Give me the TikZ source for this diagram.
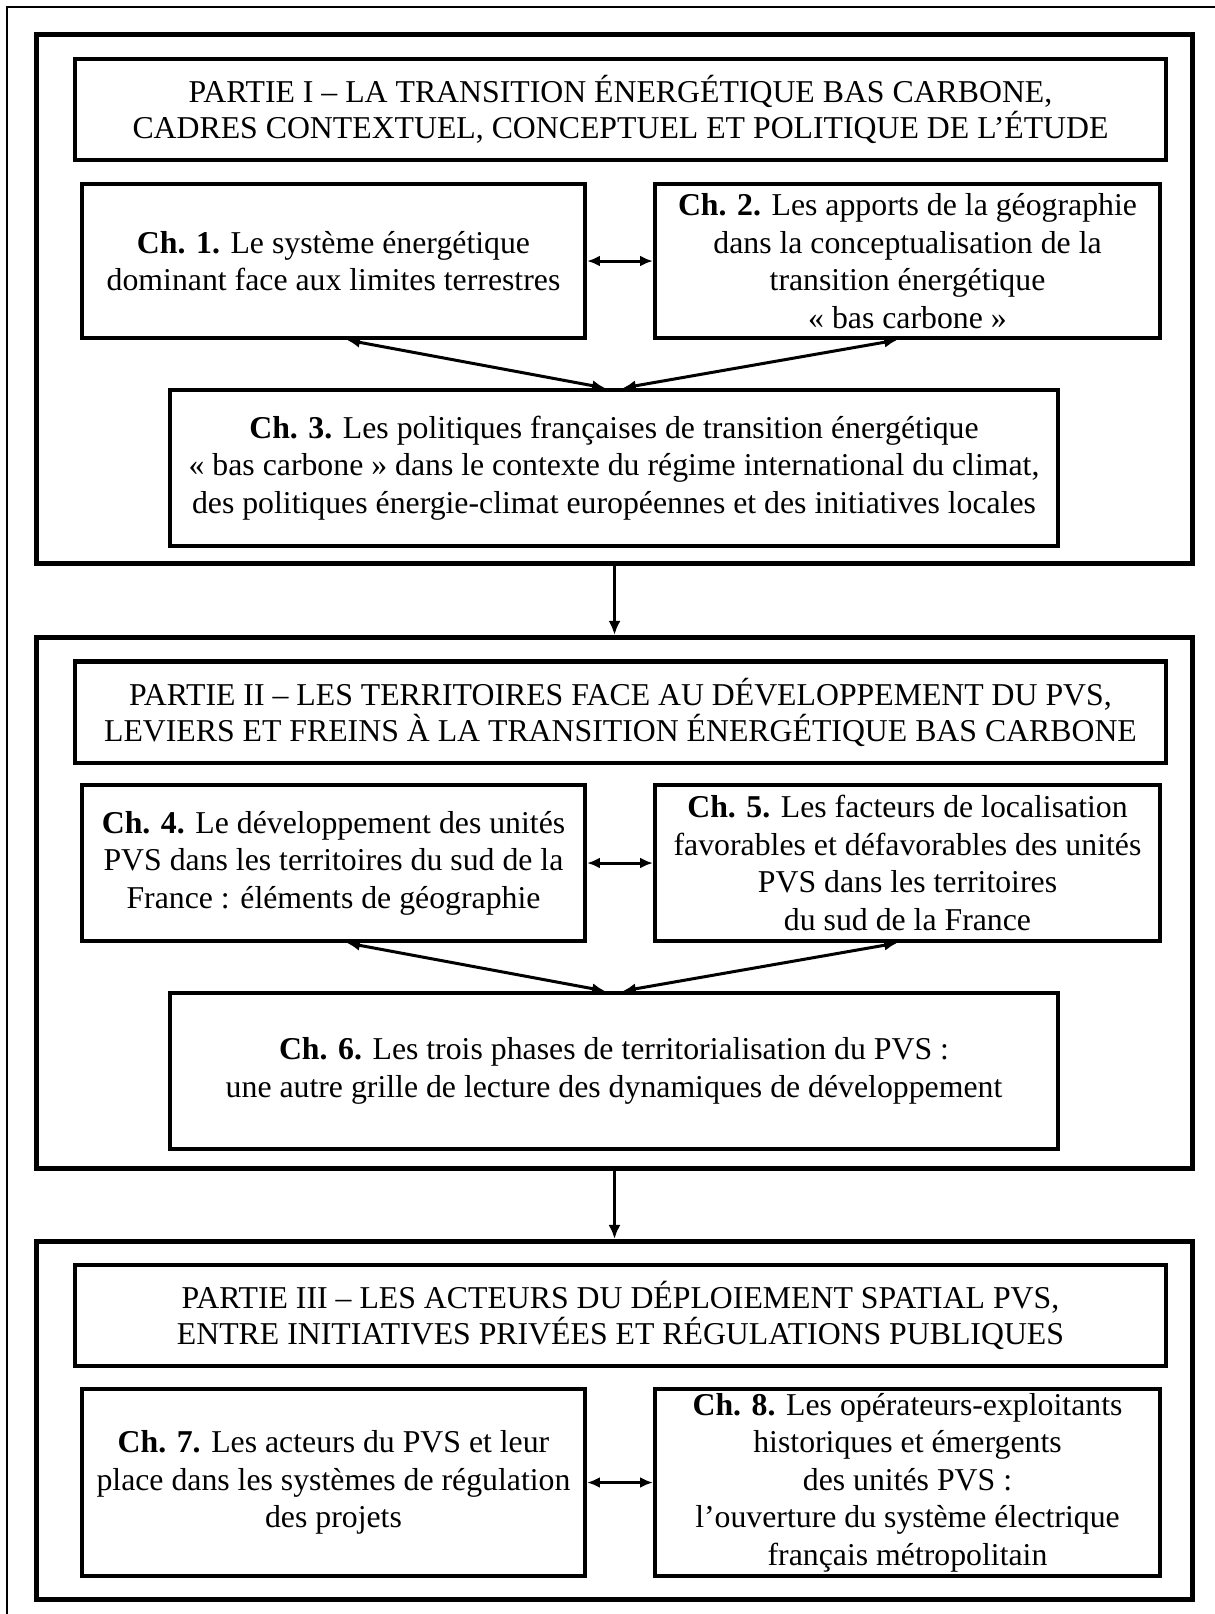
\documentclass[tikz,border=0pt]{standalone}
\usepackage{fontspec}
\setmainfont{Liberation Serif}
\usetikzlibrary{arrows.meta}
\tikzset{
  partbox/.style={draw, line width=0.125cm, minimum width=28.9cm, inner sep=0pt},
  titlebox/.style={draw, line width=0.1cm, minimum width=27.275cm, minimum height=2.525cm,
    align=center, inner sep=0pt, font=\fontsize{22.6}{25.6}\selectfont},
  chapbox/.style={draw, line width=0.1cm, align=center, inner sep=0pt,
    font=\fontsize{22.6}{26.7}\selectfont},
  linkarrow/.style={line width=0.075cm, {Latex[length=0.32cm,width=0.27cm]}-{Latex[length=0.32cm,width=0.27cm]}},
  downarrow/.style={line width=0.08cm, -{Latex[length=0.35cm,width=0.3cm]}}
}
\begin{document}
\begin{tikzpicture}[x=0.025cm, y=-0.025cm]
\useasboundingbox (0,0) rectangle (1215,1614);
\draw[line width=0.04cm] (1215,7) -- (7,7) -- (7,1614);

% Partie I
\node[partbox, minimum height=13.225cm] (part1) at (614.5,299) {};
\node[titlebox] (title1) at (620.5,109.5) {PARTIE I – LA TRANSITION ÉNERGÉTIQUE BAS CARBONE,\\
  CADRES CONTEXTUEL, CONCEPTUEL ET POLITIQUE DE L’ÉTUDE};
\node[chapbox, minimum width=12.575cm, minimum height=3.85cm] (ch1) at (333.5,261)
  {\textbf{Ch. 1.} Le système énergétique\\ dominant face aux limites terrestres};
\node[chapbox, minimum width=12.625cm, minimum height=3.85cm] (ch2) at (907.5,261)
  {\textbf{Ch. 2.} Les apports de la géographie\\ dans la conceptualisation de la\\
   transition énergétique\\ « bas carbone »};
\node[chapbox, minimum width=22.2cm, minimum height=3.9cm] (ch3) at (614,468)
  {\textbf{Ch. 3.} Les politiques françaises de transition énergétique\\
   « bas carbone » dans le contexte du régime international du climat,\\
   des politiques énergie-climat européennes et des initiatives locales};
\draw[linkarrow] (ch1.east) -- (ch2.west);
\draw[linkarrow] ([xshift=0.34cm]ch1.south) -- ([xshift=-0.225cm]ch3.north);
\draw[linkarrow] ([xshift=-0.26cm]ch2.south) -- ([xshift=0.225cm]ch3.north);

% Partie II
\node[partbox, minimum height=13.275cm] (part2) at (614.5,903) {};
\node[titlebox] (title2) at (620.5,712) {PARTIE II – LES TERRITOIRES FACE AU DÉVELOPPEMENT DU PVS,\\
  LEVIERS ET FREINS À LA TRANSITION ÉNERGÉTIQUE BAS CARBONE};
\node[chapbox, minimum width=12.575cm, minimum height=3.9cm] (ch4) at (333.5,863)
  {\textbf{Ch. 4.} Le développement des unités\\ PVS dans les territoires du sud de la\\
   France : éléments de géographie};
\node[chapbox, minimum width=12.625cm, minimum height=3.9cm] (ch5) at (907.5,863)
  {\textbf{Ch. 5.} Les facteurs de localisation\\ favorables et défavorables des unités\\
   PVS dans les territoires\\ du sud de la France};
\node[chapbox, minimum width=22.2cm, minimum height=3.9cm] (ch6) at (614,1071)
  {\textbf{Ch. 6.} Les trois phases de territorialisation du PVS :\\
   une autre grille de lecture des dynamiques de développement};
\draw[linkarrow] (ch4.east) -- (ch5.west);
\draw[linkarrow] ([xshift=0.34cm]ch4.south) -- ([xshift=-0.225cm]ch6.north);
\draw[linkarrow] ([xshift=-0.26cm]ch5.south) -- ([xshift=0.225cm]ch6.north);

% Partie III
\node[partbox, minimum height=8.95cm] (part3) at (614.5,1420.5) {};
\node[titlebox] (title3) at (620.5,1315.5) {PARTIE III – LES ACTEURS DU DÉPLOIEMENT SPATIAL PVS,\\
  ENTRE INITIATIVES PRIVÉES ET RÉGULATIONS PUBLIQUES};
\node[chapbox, minimum width=12.575cm, minimum height=4.675cm] (ch7) at (333.5,1482.5)
  {\textbf{Ch. 7.} Les acteurs du PVS et leur\\ place dans les systèmes de régulation\\ des projets};
\node[chapbox, minimum width=12.625cm, minimum height=4.675cm] (ch8) at (907.5,1482.5)
  {\textbf{Ch. 8.} Les opérateurs-exploitants\\ historiques et émergents\\ des unités PVS :\\
   l’ouverture du système électrique\\ français métropolitain};
\draw[linkarrow] (ch7.east) -- (ch8.west);

\draw[downarrow] (part1.south) -- (part2.north);
\draw[downarrow] (part2.south) -- (part3.north);
\end{tikzpicture}
\end{document}
